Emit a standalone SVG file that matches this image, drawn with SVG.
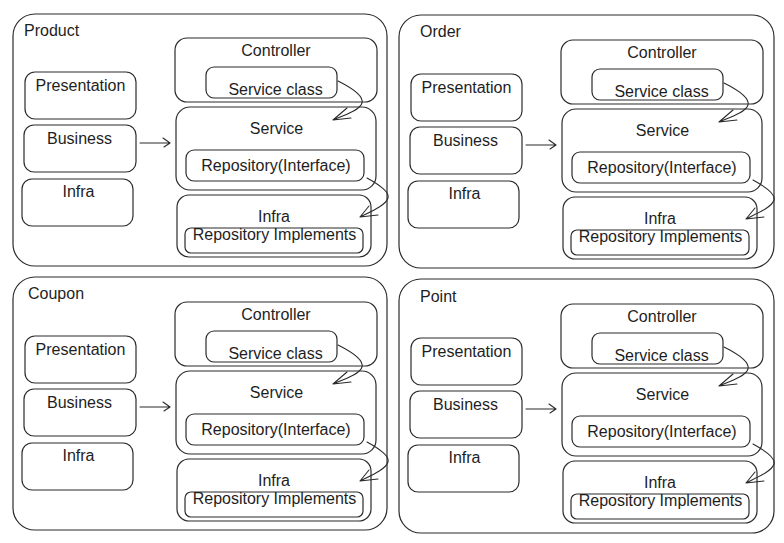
<svg xmlns="http://www.w3.org/2000/svg" width="784" height="543" viewBox="0 0 784 543">
<style>
  .box { fill: none; stroke: #2b2b2b; stroke-width: 1.2; }
  .panel { fill: #ffffff; stroke: #2b2b2b; stroke-width: 1.2; }
  .lbl { font-family: "Liberation Sans", "DejaVu Sans", sans-serif; font-size: 16px; fill: #1e1e1e; text-anchor: middle; }
  .ttl { font-family: "Liberation Sans", "DejaVu Sans", sans-serif; font-size: 16px; fill: #1e1e1e; }
  .conn { fill: none; stroke: #2b2b2b; stroke-width: 1.1; stroke-linecap: round; stroke-linejoin: round; }
</style>
<rect x="0" y="0" width="784" height="543" fill="#ffffff"/>

<!-- Product panel -->
<g id="product" transform="translate(0,0)">
  <g id="product-frame">
    <rect class="panel" x="13" y="14" width="374" height="252" rx="22"/>
    <text class="ttl" x="24" y="36">Product</text>
  </g>
  <g id="product-presentation"><rect class="box" x="25" y="72" width="111" height="47" rx="10"/><text class="lbl" x="80.5" y="91">Presentation</text></g>
  <g id="product-business"><rect class="box" x="24" y="125" width="112" height="47" rx="10"/><text class="lbl" x="79.5" y="144">Business</text></g>
  <g id="product-infra-left"><rect class="box" x="22" y="179" width="111" height="47" rx="10"/><text class="lbl" x="78.5" y="197">Infra</text></g>
  <g id="product-controller"><rect class="box" x="175" y="38" width="202" height="64" rx="12"/><text class="lbl" x="276" y="56">Controller</text></g>
  <g id="product-service-class"><rect class="box" x="206" y="67" width="131" height="31" rx="8"/><text class="lbl" x="275.5" y="95">Service class</text></g>
  <g id="product-service"><rect class="box" x="176" y="107" width="200" height="83" rx="14"/><text class="lbl" x="276.5" y="134">Service</text></g>
  <g id="product-repo-interface"><rect class="box" x="186" y="150" width="178" height="31" rx="8"/><text class="lbl" x="276" y="171">Repository(Interface)</text></g>
  <g id="product-infra"><rect class="box" x="177" y="195" width="194" height="62" rx="12"/><text class="lbl" x="274" y="222">Infra</text></g>
  <g id="product-repo-impl"><rect class="box" x="185" y="228" width="178" height="25" rx="6"/><text class="lbl" x="274.5" y="240">Repository Implements</text></g>
  <g id="product-connectors">
    <path class="conn" d="M140,143 L170,143 M163,138 L170,143 L164,147"/>
    <path class="conn" d="M338,81 C352,88 364,96 362,103 C360,110 345,115 333,120 M347,108 L333,120 L351,118"/>
    <path class="conn" d="M367,178 C378,184 390,192 388,198 C386,205 372,211 360,217 M369,206 L360,217 L378,215"/>
  </g>
</g>

<!-- Order panel -->
<g id="order" transform="translate(386,2)">
  <g id="order-frame">
    <rect class="panel" x="13" y="13" width="375" height="253" rx="22"/>
    <text class="ttl" x="34" y="35">Order</text>
  </g>
  <g id="order-presentation"><rect class="box" x="25" y="72" width="111" height="47" rx="10"/><text class="lbl" x="80.5" y="91">Presentation</text></g>
  <g id="order-business"><rect class="box" x="24" y="125" width="112" height="47" rx="10"/><text class="lbl" x="79.5" y="144">Business</text></g>
  <g id="order-infra-left"><rect class="box" x="22" y="179" width="111" height="47" rx="10"/><text class="lbl" x="78.5" y="197">Infra</text></g>
  <g id="order-controller"><rect class="box" x="175" y="38" width="202" height="64" rx="12"/><text class="lbl" x="276" y="56">Controller</text></g>
  <g id="order-service-class"><rect class="box" x="206" y="67" width="131" height="31" rx="8"/><text class="lbl" x="275.5" y="95">Service class</text></g>
  <g id="order-service"><rect class="box" x="176" y="107" width="200" height="83" rx="14"/><text class="lbl" x="276.5" y="134">Service</text></g>
  <g id="order-repo-interface"><rect class="box" x="186" y="150" width="178" height="31" rx="8"/><text class="lbl" x="276" y="171">Repository(Interface)</text></g>
  <g id="order-infra"><rect class="box" x="177" y="195" width="194" height="62" rx="12"/><text class="lbl" x="274" y="222">Infra</text></g>
  <g id="order-repo-impl"><rect class="box" x="185" y="228" width="178" height="25" rx="6"/><text class="lbl" x="274.5" y="240">Repository Implements</text></g>
  <g id="order-connectors">
    <path class="conn" d="M140,143 L170,143 M163,138 L170,143 L164,147"/>
    <path class="conn" d="M338,81 C352,88 364,96 362,103 C360,110 345,115 333,120 M347,108 L333,120 L351,118"/>
    <path class="conn" d="M367,178 C378,184 390,192 388,198 C386,205 372,211 360,217 M369,206 L360,217 L378,215"/>
  </g>
</g>

<!-- Coupon panel -->
<g id="coupon" transform="translate(0,264)">
  <g id="coupon-frame">
    <rect class="panel" x="13" y="13" width="374" height="253" rx="22"/>
    <text class="ttl" x="28" y="35">Coupon</text>
  </g>
  <g id="coupon-presentation"><rect class="box" x="25" y="72" width="111" height="47" rx="10"/><text class="lbl" x="80.5" y="91">Presentation</text></g>
  <g id="coupon-business"><rect class="box" x="24" y="125" width="112" height="47" rx="10"/><text class="lbl" x="79.5" y="144">Business</text></g>
  <g id="coupon-infra-left"><rect class="box" x="22" y="179" width="111" height="47" rx="10"/><text class="lbl" x="78.5" y="197">Infra</text></g>
  <g id="coupon-controller"><rect class="box" x="175" y="38" width="202" height="64" rx="12"/><text class="lbl" x="276" y="56">Controller</text></g>
  <g id="coupon-service-class"><rect class="box" x="206" y="67" width="131" height="31" rx="8"/><text class="lbl" x="275.5" y="95">Service class</text></g>
  <g id="coupon-service"><rect class="box" x="176" y="107" width="200" height="83" rx="14"/><text class="lbl" x="276.5" y="134">Service</text></g>
  <g id="coupon-repo-interface"><rect class="box" x="186" y="150" width="178" height="31" rx="8"/><text class="lbl" x="276" y="171">Repository(Interface)</text></g>
  <g id="coupon-infra"><rect class="box" x="177" y="195" width="194" height="62" rx="12"/><text class="lbl" x="274" y="222">Infra</text></g>
  <g id="coupon-repo-impl"><rect class="box" x="185" y="228" width="178" height="25" rx="6"/><text class="lbl" x="274.5" y="240">Repository Implements</text></g>
  <g id="coupon-connectors">
    <path class="conn" d="M140,143 L170,143 M163,138 L170,143 L164,147"/>
    <path class="conn" d="M338,81 C352,88 364,96 362,103 C360,110 345,115 333,120 M347,108 L333,120 L351,118"/>
    <path class="conn" d="M367,178 C378,184 390,192 388,198 C386,205 372,211 360,217 M369,206 L360,217 L378,215"/>
  </g>
</g>

<!-- Point panel -->
<g id="point" transform="translate(386,266)">
  <g id="point-frame">
    <rect class="panel" x="13" y="13" width="375" height="254" rx="22"/>
    <text class="ttl" x="34" y="36">Point</text>
  </g>
  <g id="point-presentation"><rect class="box" x="25" y="72" width="111" height="47" rx="10"/><text class="lbl" x="80.5" y="91">Presentation</text></g>
  <g id="point-business"><rect class="box" x="24" y="125" width="112" height="47" rx="10"/><text class="lbl" x="79.5" y="144">Business</text></g>
  <g id="point-infra-left"><rect class="box" x="22" y="179" width="111" height="47" rx="10"/><text class="lbl" x="78.5" y="197">Infra</text></g>
  <g id="point-controller"><rect class="box" x="175" y="38" width="202" height="64" rx="12"/><text class="lbl" x="276" y="56">Controller</text></g>
  <g id="point-service-class"><rect class="box" x="206" y="67" width="131" height="31" rx="8"/><text class="lbl" x="275.5" y="95">Service class</text></g>
  <g id="point-service"><rect class="box" x="176" y="107" width="200" height="83" rx="14"/><text class="lbl" x="276.5" y="134">Service</text></g>
  <g id="point-repo-interface"><rect class="box" x="186" y="150" width="178" height="31" rx="8"/><text class="lbl" x="276" y="171">Repository(Interface)</text></g>
  <g id="point-infra"><rect class="box" x="177" y="195" width="194" height="62" rx="12"/><text class="lbl" x="274" y="222">Infra</text></g>
  <g id="point-repo-impl"><rect class="box" x="185" y="228" width="178" height="25" rx="6"/><text class="lbl" x="274.5" y="240">Repository Implements</text></g>
  <g id="point-connectors">
    <path class="conn" d="M140,143 L170,143 M163,138 L170,143 L164,147"/>
    <path class="conn" d="M338,81 C352,88 364,96 362,103 C360,110 345,115 333,120 M347,108 L333,120 L351,118"/>
    <path class="conn" d="M367,178 C378,184 390,192 388,198 C386,205 372,211 360,217 M369,206 L360,217 L378,215"/>
  </g>
</g>
</svg>
